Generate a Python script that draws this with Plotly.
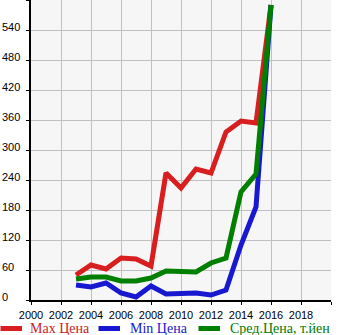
import plotly.graph_objects as go

# Price history by model year (thousand yen)
years = list(range(2003, 2017))
max_price = [50, 70, 62, 84, 82, 68, 254, 224, 262, 254, 336, 358, 354, 590]
min_price = [30, 26, 34, 14, 6, 28, 12, 14, 14, 10, 20, 110, 186, 590]
avg_price = [42, 46, 46, 38, 38, 44, 58, 56, 56, 74, 84, 216, 252, 590]

series_names = ["Max Цена", "Min Цена", "Сред.Цена, т.йен"]
line_colors = ["#d81e1e", "#1818d0", "#007f00"]
text_colors = ["#cc1c1c", "#1818d0", "#007a00"]

x_tick_vals = list(range(2000, 2021, 2))
x_tick_text = [str(v) for v in range(2000, 2020, 2)] + [""]
y_tick_vals = list(range(0, 601, 60))
y_tick_text = [str(v) for v in range(0, 541, 60)]

W, H = 345, 335
L, R, T, B = 31, 14, 0, 35
PW, PH = W - L - R, H - T - B


def px_x(px):
    return (px - L) / PW


def px_y(py):
    return (H - B - py) / PH


fig = go.Figure()
for name, vals, col in zip(series_names, [max_price, min_price, avg_price], line_colors):
    fig.add_trace(go.Scatter(
        x=years, y=vals, mode="lines", name=name,
        line=dict(color=col, width=5), showlegend=False,
    ))

annotations = []
# y tick labels, left aligned at the figure edge
for v, t in zip(y_tick_vals, y_tick_text):
    annotations.append(dict(
        x=px_x(0), xref="paper", y=v, yref="y", text=t, showarrow=False,
        xanchor="left", yanchor="middle", yshift=3.5,
        font=dict(family="Liberation Sans, Arial", size=11, color="#000"),
    ))

# legend row
shapes = []
legend_line_x = [0, 98, 198]
legend_text_x = [29, 129, 229]
for lx, tx, name, lc, tc in zip(legend_line_x, legend_text_x, series_names, line_colors, text_colors):
    shapes.append(dict(
        type="line", xref="paper", yref="paper",
        x0=px_x(lx + 0.5), x1=px_x(lx + 22), y0=px_y(328.5), y1=px_y(328.5),
        line=dict(color=lc, width=5),
    ))
    annotations.append(dict(
        x=px_x(tx), xref="paper", y=px_y(328.5), yref="paper", text=name,
        showarrow=False, xanchor="left", yanchor="middle", borderpad=0,
        font=dict(family="Liberation Serif, Times New Roman, serif", size=14, color=tc),
    ))

fig.update_layout(
    width=W, height=H,
    margin=dict(l=L, r=R, t=T, b=B, pad=0),
    paper_bgcolor="#ffffff", plot_bgcolor="#f6f6f6",
    showlegend=False,
    annotations=annotations, shapes=shapes,
    xaxis=dict(
        range=[2000, 2020], tickmode="array", tickvals=x_tick_vals, ticktext=x_tick_text,
        showgrid=True, gridcolor="#c0c0c0", gridwidth=1, zeroline=False,
        showline=True, linecolor="#000", linewidth=2,
        ticks="outside", ticklen=3, tickcolor="#000", tickwidth=1,
        ticklabelstandoff=1,
        tickfont=dict(family="Liberation Sans, Arial", size=11, color="#000"),
    ),
    yaxis=dict(
        range=[0, 600], tickmode="array", tickvals=y_tick_vals,
        showticklabels=False,
        showgrid=True, gridcolor="#c0c0c0", gridwidth=1, zeroline=False,
        showline=True, linecolor="#000", linewidth=2,
        ticks="outside", ticklen=3, tickcolor="#000", tickwidth=1,
    ),
)

fig.write_html("out.html", config={"displayModeBar": False})
